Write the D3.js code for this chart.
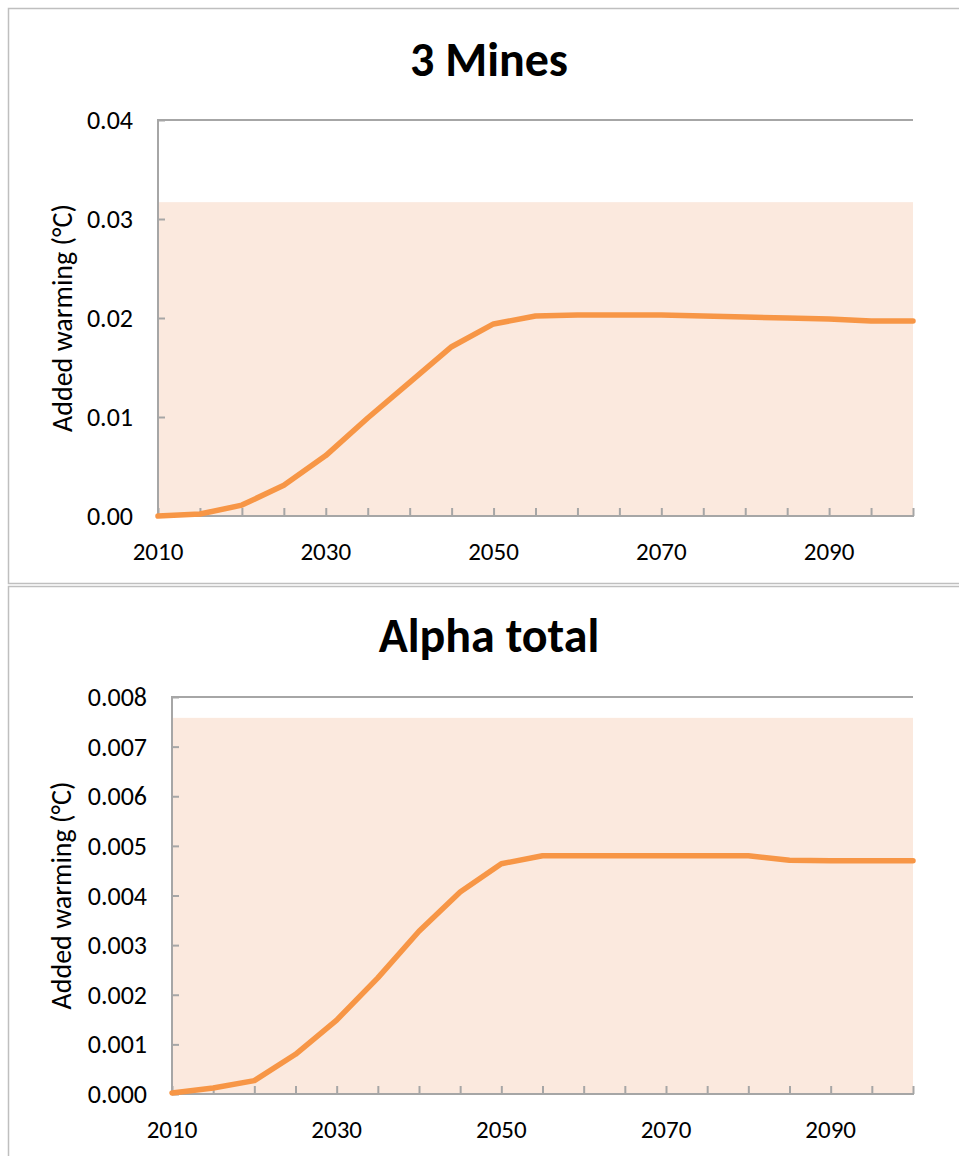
<!DOCTYPE html>
<html>
<head>
<meta charset="utf-8">
<script src="https://cdn.jsdelivr.net/npm/d3@7"></script>
<style>
  html, body { margin: 0; padding: 0; background: #fff; }
  svg { display: block; }
  text { font-family: Carlito, Lato, "Open Sans", sans-serif; fill: #000; }
</style>
</head>
<body>
<svg id="chart" width="959" height="1156"></svg>
<script>
// ---------- data ----------
const years = [2010, 2015, 2020, 2025, 2030, 2035, 2040, 2045, 2050, 2055,
               2060, 2065, 2070, 2075, 2080, 2085, 2090, 2095, 2100];
const xTickLabels = [2010, 2030, 2050, 2070, 2090];

const minesTitle = "3 Mines";
const minesValues = [0.0000, 0.0002, 0.0011, 0.0031, 0.0061, 0.0099, 0.0135, 0.0171, 0.0194,
                     0.0202, 0.0203, 0.0203, 0.0203, 0.0202, 0.0201, 0.0200, 0.0199, 0.0197, 0.0197];
const minesBand = 0.0317;
const minesYTicks = [0, 0.01, 0.02, 0.03, 0.04];

const alphaTitle = "Alpha total";
const alphaValues = [0.00002, 0.00012, 0.00027, 0.00080, 0.00149, 0.00234, 0.00328, 0.00407, 0.00464,
                     0.00480, 0.00480, 0.00480, 0.00480, 0.00480, 0.00480, 0.00471, 0.00470, 0.00470, 0.00470];
const alphaBand = 0.00758;
const alphaYTicks = [0, 0.001, 0.002, 0.003, 0.004, 0.005, 0.006, 0.007, 0.008];

const yLabel = "Added warming (°C)";

// ---------- drawing ----------
const svg = d3.select("#chart");

function drawPanel(cfg) {
  const g = svg.append("g");
  // outer chart frame
  g.append("rect")
    .attr("x", 8.5).attr("y", cfg.frameTop + 0.5)
    .attr("width", 980).attr("height", cfg.frameH)
    .attr("fill", "none").attr("stroke", "#bfbfbf").attr("stroke-width", 1.5);

  const x = d3.scaleLinear().domain([2010, 2100]).range([cfg.left, cfg.right]);
  const y = d3.scaleLinear().domain([0, cfg.yMax]).range([cfg.bottom, cfg.top]);

  // band
  g.append("rect")
    .attr("x", x(2010)).attr("y", y(cfg.band))
    .attr("width", x(2100) - x(2010)).attr("height", y(0) - y(cfg.band))
    .attr("fill", "#fbe9de");

  // top line at max
  g.append("line")
    .attr("x1", x(2010)).attr("x2", x(2100))
    .attr("y1", y(cfg.yMax)).attr("y2", y(cfg.yMax))
    .attr("stroke", "#a6a6a6").attr("stroke-width", 2);

  // y axis
  const yAxis = d3.axisRight(y).tickValues(cfg.yTicks).tickSize(7).tickFormat("");
  const ya = g.append("g").attr("transform", `translate(${x(2010)},0)`).call(yAxis);
  ya.select(".domain").remove();
  ya.selectAll(".tick line").attr("stroke", "#a6a6a6").attr("stroke-width", 2);
  g.append("line")
    .attr("x1", x(2010)).attr("x2", x(2010))
    .attr("y1", y(cfg.yMax) - 1).attr("y2", y(0) + 1)
    .attr("stroke", "#a6a6a6").attr("stroke-width", 2);
  // y tick labels
  g.selectAll(".ylab").data(cfg.yTicks).enter().append("text")
    .attr("x", x(2010) - 25).attr("y", d => y(d))
    .attr("dy", "0.35em").attr("text-anchor", "end")
    .style("font-size", "26px")
    .text(d => d3.format(cfg.fmt)(d));

  // x axis
  const xAxis = d3.axisTop(x).tickValues(years).tickSize(8).tickFormat("");
  const xa = g.append("g").attr("transform", `translate(0,${y(0)})`).call(xAxis);
  xa.select(".domain").remove();
  xa.selectAll(".tick line").attr("stroke", "#a6a6a6").attr("stroke-width", 2);
  g.append("line")
    .attr("x1", x(2010) - 1).attr("x2", x(2100) + 1)
    .attr("y1", y(0)).attr("y2", y(0))
    .attr("stroke", "#a6a6a6").attr("stroke-width", 2);
  g.selectAll(".xlab").data(xTickLabels).enter().append("text")
    .attr("x", d => x(d)).attr("y", y(0) + 35)
    .attr("dy", "0.35em").attr("text-anchor", "middle")
    .style("font-size", "25px")
    .text(d => d);

  // line
  const line = d3.line().x((d, i) => x(years[i])).y(d => y(d));
  g.append("path").datum(cfg.values)
    .attr("d", line)
    .attr("fill", "none").attr("stroke", "#f79646")
    .attr("stroke-width", 5.5).attr("stroke-linejoin", "round").attr("stroke-linecap", "round");

  // title
  g.append("text")
    .attr("x", 489).attr("y", cfg.titleY)
    .attr("text-anchor", "middle")
    .style("font-size", "48px").style("font-weight", "bold")
    .text(cfg.title);

  // y label
  g.append("text")
    .attr("transform", `translate(${cfg.yLabelX},${(cfg.top + cfg.bottom) / 2}) rotate(-90)`)
    .attr("text-anchor", "middle")
    .style("font-size", "28px")
    .text(yLabel);
}

drawPanel({
  frameTop: 8, frameH: 575,
  left: 158, right: 913, top: 120, bottom: 516,
  yMax: 0.04, yTicks: minesYTicks, fmt: ".2f",
  band: minesBand, values: minesValues,
  title: minesTitle, titleY: 76, yLabelX: 72
});

drawPanel({
  frameTop: 586, frameH: 700,
  left: 172, right: 913, top: 697, bottom: 1094,
  yMax: 0.008, yTicks: alphaYTicks, fmt: ".3f",
  band: alphaBand, values: alphaValues,
  title: alphaTitle, titleY: 652, yLabelX: 71
});
</script>
</body>
</html>
